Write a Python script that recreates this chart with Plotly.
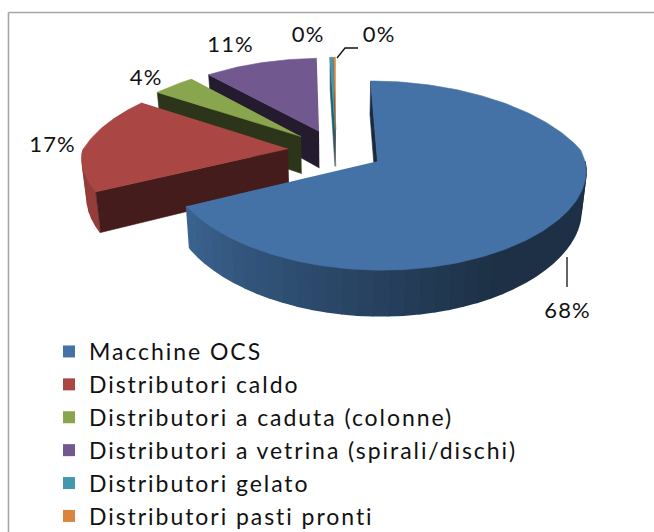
import math
import plotly.graph_objects as go

categories = ["Macchine OCS", "Distributori caldo", "Distributori a caduta (colonne)",
              "Distributori a vetrina (spirali/dischi)", "Distributori gelato", "Distributori pasti pronti"]
values = [67.5, 17.0, 4.0, 11.0, 0.3, 0.2]
colors = ["#4472A6", "#AA4643", "#89A54E", "#71588F", "#4198AF", "#DB843D"]
label_texts = ["68%", "17%", "4%", "11%", "0%", "0%"]
label_pos = [(567, 309), (52, 143), (146, 76), (230, 43), (308, 33), (379, 33)]

# projection of the tilted, exploded pie
X0, Y0, R, H, K = 336, 150, 205, 89, 0.15
KX_BACK, KX_FRONT = 0.21, 0.09
DEPTH, SHRINK, EXPLODE = 38, 0.02, 0.235


def top(u, v):
    d = 1 + K * v
    dx = 1 + (KX_BACK if v > 0 else KX_FRONT) * v
    return X0 + R * u / dx, Y0 - H * v / d


def bottom(u, v):
    d = 1 + K * v
    dx = 1 + (KX_BACK if v > 0 else KX_FRONT) * v
    return X0 + R * (1 - SHRINK) * u / dx, Y0 + (DEPTH - H * v) / d


def rim(cu, cv, deg):
    a = math.radians(deg)
    return cu + math.sin(a), cv + math.cos(a)


def shade(hex_color, f):
    r, g, b = (int(hex_color[i:i + 2], 16) for i in (1, 3, 5))
    return f"rgb({round(r * f)},{round(g * f)},{round(b * f)})"


def wall_factor(deg):
    if deg <= 150:
        return 0.42
    return min(0.42 + (deg - 150) / 93 * 0.45, 0.87)


fig = go.Figure()


def poly(points, color, width=0.6):
    fig.add_trace(go.Scatter(x=[p[0] for p in points], y=[p[1] for p in points],
                             mode="lines", fill="toself", fillcolor=color,
                             line=dict(color=color, width=width),
                             hoverinfo="skip", showlegend=False))


total = sum(values)
angles = []
acc = 0.0
for val in values:
    angles.append((acc, acc + val / total * 360))
    acc += val / total * 360

for i in [3, 5, 4, 2, 1, 0]:
    a0, a1 = angles[i]
    mid = math.radians((a0 + a1) / 2)
    cu, cv = EXPLODE * math.sin(mid), EXPLODE * math.cos(mid)
    # curved outer wall, front-facing part only
    s0, s1 = max(a0, 90), min(a1, 270)
    deg = s0
    while deg < s1:
        nxt = min(deg + 4, s1)
        p = rim(cu, cv, deg)
        q = rim(cu, cv, nxt)
        poly([top(*p), top(*q), bottom(*q), bottom(*p)], shade(colors[i], wall_factor((deg + nxt) / 2)), 1.6)
        deg = nxt
    # radial wall on the leading edge
    eu, ev = rim(cu, cv, a0)
    wf = 0.32 if i != 4 else 0.6
    poly([top(cu, cv), top(eu, ev), bottom(eu, ev), bottom(cu, cv)],
         shade(colors[i], 0.38 if i == 0 else wf + 0.08 * (i == 1)))
    # top face
    n = max(2, int(a1 - a0))
    arc = [top(*rim(cu, cv, a0 + (a1 - a0) * j / n)) for j in range(n + 1)]
    poly([top(cu, cv)] + arc, colors[i])

for name, col in zip(categories, colors):
    fig.add_trace(go.Scatter(x=[None], y=[None], mode="markers", name=name, legendgroup=name,
                             marker=dict(symbol="square", size=16, color=col), hoverinfo="skip"))

for t, (x, y) in zip(label_texts, label_pos):
    fig.add_annotation(x=x, y=y, text=t, showarrow=False, xanchor="center", yanchor="middle",
                       font=dict(family="Lato", size=22, color="#111111"))

fig.add_shape(type="line", x0=567, y0=257, x1=567, y1=287, line=dict(color="#111111", width=1.3))
fig.add_shape(type="path", path="M 337 58 L 345 48 L 358 48", line=dict(color="#111111", width=1.3))
# the frame runs off the picture on the right and at the bottom
fig.add_shape(type="line", x0=8.5, y0=12.5, x1=654, y1=12.5, line=dict(color="#A6A6A6", width=1.6))
fig.add_shape(type="line", x0=8.5, y0=12.5, x1=8.5, y1=532, line=dict(color="#A6A6A6", width=1.6))

fig.update_layout(
    width=654, height=532, margin=dict(l=0, r=0, t=0, b=0),
    paper_bgcolor="white", plot_bgcolor="white",
    xaxis=dict(range=[0, 654], visible=False, fixedrange=True),
    yaxis=dict(range=[532, 0], visible=False, fixedrange=True),
    legend=dict(x=49 / 654, y=1 - 322 / 532,
                xanchor="left", yanchor="top", tracegroupgap=0,
                bgcolor="rgba(0,0,0,0)", font=dict(family="Lato", size=23, color="#111111"),
                itemsizing="constant", itemclick=False, itemdoubleclick=False),
)
page_css = """
document.body.style.margin = '0';
var st = document.createElement('style');
st.textContent = '.legendtext{letter-spacing:1.95px} .annotation-text{letter-spacing:1.2px} .legend .scrollbox{clip-path:none !important; transform:translate(0px,8px)}';
document.head.appendChild(st);
"""
fig.write_html("out.html", post_script=page_css, config=dict(displayModeBar=False))
